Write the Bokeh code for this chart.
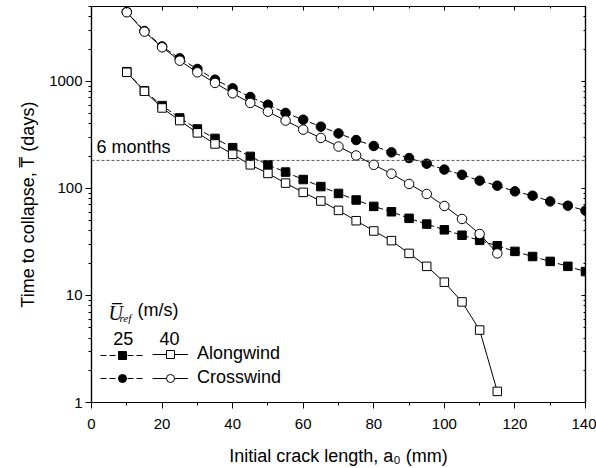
from bokeh.plotting import figure
from bokeh.models import (ColumnDataSource, FixedTicker, LinearAxis, LogAxis, Range1d,
                          Label, Span, Legend, LegendItem, PrintfTickFormatter,
                          CustomJSTickFormatter)
from bokeh.embed import file_html
from bokeh.resources import INLINE

# ---------------- data ----------------
a0_full = [10, 15, 20, 25, 30, 35, 40, 45, 50, 55, 60, 65, 70, 75, 80, 85, 90,
           95, 100, 105, 110, 115, 120, 125, 130, 135, 140]
a0_short = [10, 15, 20, 25, 30, 35, 40, 45, 50, 55, 60, 65, 70, 75, 80, 85, 90,
            95, 100, 105, 110, 115]

cross_25 = [4450, 2950, 2120, 1640, 1305, 1037, 860, 714, 605, 507, 438, 377, 326,
            283, 249, 217, 192, 170, 150, 134, 118, 106, 93.8, 85.5, 75.6, 68.9, 62]
cross_40 = [4415, 2912, 2080, 1560, 1214, 966, 773, 628, 521, 430, 354, 296, 246,
            203, 166, 137, 110, 88.7, 68.5, 51.8, 37.5, 24.7]
along_25 = [1230, 815, 593, 455, 359, 293, 240, 199, 166, 142, 121, 104, 89.7, 77.9,
            67.9, 60.5, 52.5, 46.4, 41.0, 36.5, 32.7, 29.1, 25.8, 23.1, 20.8, 18.7, 16.7]
along_40 = [1214, 807, 564, 430, 330, 260, 208, 166, 138, 112, 91.8, 76.2, 62.3, 49.9,
            40.0, 32.5, 24.7, 18.7, 13.3, 8.7, 4.75, 1.27]

six_months = 182.5

x_ticks = [0, 20, 40, 60, 80, 100, 120, 140]
x_minor = [10, 30, 50, 70, 90, 110, 130]
y_ticks = [1, 10, 100, 1000]
y_minor = [2, 3, 4, 5, 6, 7, 8, 9, 20, 30, 40, 50, 60, 70, 80, 90,
           200, 300, 400, 500, 600, 700, 800, 900, 2000, 3000, 4000, 5000]

FONT = "Liberation Sans"
SERIF = "Liberation Serif"

p = figure(width=596, height=468, y_axis_type="log",
           x_range=Range1d(0, 140), y_range=Range1d(1, 5000),
           output_backend="svg", toolbar_location=None,
           min_border_left=91, min_border_right=11, min_border_top=6,
           min_border_bottom=65)
p.xgrid.visible = False
p.ygrid.visible = False
p.outline_line_color = "black"
p.outline_line_width = 1.2
p.background_fill_color = "white"
p.border_fill_color = "white"

# axes
xa = p.xaxis[0]
xa.ticker = FixedTicker(ticks=x_ticks, minor_ticks=x_minor)
xa.axis_label = "Initial crack length, a\u2080 (mm)"
ya = p.yaxis[0]
ya.ticker = FixedTicker(ticks=y_ticks, minor_ticks=y_minor)
ya.formatter = PrintfTickFormatter(format="%d")
ya.axis_label = "Time to collapse, T\u0305 (days)"
for ax in (xa, ya):
    ax.axis_line_color = "black"
    ax.axis_line_width = 1.2
    ax.major_tick_line_color = "black"
    ax.minor_tick_line_color = "black"
    ax.major_tick_out = 6
    ax.major_tick_in = 0
    ax.minor_tick_out = 3
    ax.minor_tick_in = 0
    ax.major_label_text_font = FONT
    ax.major_label_text_font_size = "15px"
    ax.major_label_text_color = "black"
    ax.axis_label_text_font = FONT
    ax.axis_label_text_font_size = "18px"
    ax.axis_label_text_font_style = "normal"
    ax.axis_label_text_color = "black"
xa.major_label_standoff = 10
xa.axis_label_standoff = 14
ya.major_label_standoff = 3
ya.axis_label_standoff = 8

# mirrored axes (ticks only)
top = LinearAxis(ticker=FixedTicker(ticks=x_ticks, minor_ticks=x_minor),
                 formatter=CustomJSTickFormatter(code="return ''"))
right = LogAxis(ticker=FixedTicker(ticks=y_ticks, minor_ticks=y_minor),
                formatter=CustomJSTickFormatter(code="return ''"))
for ax in (top, right):
    ax.major_tick_out = 0
    ax.major_tick_in = 4
    ax.minor_tick_out = 0
    ax.minor_tick_in = 2
    ax.major_label_standoff = 0
    ax.axis_line_color = "black"
    ax.axis_line_width = 1.2
p.add_layout(top, "above")
p.add_layout(right, "right")

# 6 months line
p.add_layout(Span(location=six_months, dimension="width", line_color="#555555",
                  line_width=1, line_dash="3 2"))
p.add_layout(Label(x=5, y=six_months, x_units="screen", y_offset=3.5,
                   text="6 months", text_font=FONT, text_font_size="18px",
                   text_baseline="bottom", text_color="black"))

src_a25 = ColumnDataSource(dict(x=a0_full, y=along_25))
src_c25 = ColumnDataSource(dict(x=a0_full, y=cross_25))
src_a40 = ColumnDataSource(dict(x=a0_short, y=along_40))
src_c40 = ColumnDataSource(dict(x=a0_short, y=cross_40))

la25 = p.line("x", "y", source=src_a25, line_color="black", line_width=1, line_dash="6 3")
lc25 = p.line("x", "y", source=src_c25, line_color="black", line_width=1, line_dash="6 3")
la40 = p.line("x", "y", source=src_a40, line_color="black", line_width=1)
lc40 = p.line("x", "y", source=src_c40, line_color="black", line_width=1)

ma25 = p.scatter("x", "y", source=src_a25, marker="square", size=8.5,
                 fill_color="black", line_color="black", line_width=1)
mc25 = p.scatter("x", "y", source=src_c25, marker="circle", size=9.5,
                 fill_color="black", line_color="black", line_width=1)
ma40 = p.scatter("x", "y", source=src_a40, marker="square", size=8.5,
                 fill_color="white", line_color="black", line_width=1)
mc40 = p.scatter("x", "y", source=src_c40, marker="circle", size=9.5,
                 fill_color="white", line_color="black", line_width=1)

# legend: filled (25 m/s) column and open (40 m/s) column
leg_a = Legend(items=[LegendItem(label="", renderers=[la25, ma25]),
                      LegendItem(label="", renderers=[lc25, mc25])],
               location=(9, 14), glyph_width=44, glyph_height=20, label_height=20,
               label_width=0, label_standoff=0, spacing=3, padding=0, margin=0,
               border_line_color=None, background_fill_alpha=0)
leg_b = Legend(items=[LegendItem(label="Alongwind", renderers=[la40, ma40]),
                      LegendItem(label="Crosswind", renderers=[lc40, mc40])],
               location=(61, 14), glyph_width=36, glyph_height=20, label_height=20,
               label_standoff=9, spacing=3, padding=0, margin=0,
               label_text_font=FONT, label_text_font_size="18px",
               label_text_color="black",
               border_line_color=None, background_fill_alpha=0)
p.add_layout(leg_a)
p.add_layout(leg_b)

# legend header
p.add_layout(Label(x=17, y=90, x_units="screen", y_units="screen", text="U\u0305",
                   text_font=SERIF, text_font_style="italic", text_font_size="20px",
                   text_baseline="alphabetic", text_color="black"))
p.add_layout(Label(x=28, y=85, x_units="screen", y_units="screen", text="ref",
                   text_font=SERIF, text_font_style="italic", text_font_size="11px",
                   text_baseline="alphabetic", text_color="black"))
p.add_layout(Label(x=46, y=93, x_units="screen", y_units="screen", text="(m/s)",
                   text_font=FONT, text_font_size="18px",
                   text_baseline="middle", text_color="black"))
p.add_layout(Label(x=31.7, y=64, x_units="screen", y_units="screen", text="25",
                   text_font=FONT, text_font_size="18px", text_align="center",
                   text_baseline="middle", text_color="black"))
p.add_layout(Label(x=78, y=64, x_units="screen", y_units="screen", text="40",
                   text_font=FONT, text_font_size="18px", text_align="center",
                   text_baseline="middle", text_color="black"))

open("out.html", "w").write(file_html(p, INLINE))
